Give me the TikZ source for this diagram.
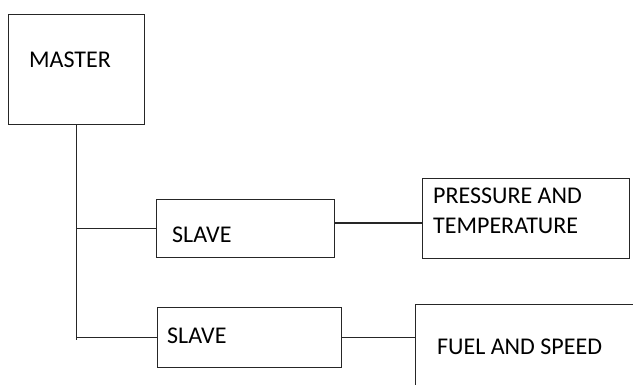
\documentclass[tikz,border=0pt]{standalone}
\usepackage{fontspec}
\setmainfont{Carlito}
\begin{document}
\begin{tikzpicture}[x=1pt,y=-1pt,
  box/.style={draw=black!85, line width=1.4pt, anchor=north west, inner sep=0pt},
  lbl/.style={anchor=base west, inner sep=0pt, text=black,
    font=\fontsize{24}{27}\selectfont},
  wire/.style={draw=black!85, line width=1.4pt}]
\clip (0,0) rectangle (633,385);
\fill[white] (0,0) rectangle (633,385);

% boxes
\node[box, minimum width=136pt, minimum height=110pt] (m) at (8,14) {};
\node[box, minimum width=178pt, minimum height=58pt] (s1) at (156,199) {};
\node[box, minimum width=184pt, minimum height=60pt] (s2) at (157,307) {};
\node[box, minimum width=207pt, minimum height=80pt] (pt) at (422,178) {};
\node[box, minimum width=240pt, minimum height=110pt] (fs) at (415,304) {};

% labels
\node[lbl] (mt) at (29,68) {MASTER};
\node[lbl] (s1t) at (172,243) {SLAVE};
\node[lbl] (s2t) at (167,344) {SLAVE};
\node[lbl] (pt1) at (433,204) {PRESSURE AND};
\node[lbl] (pt2) at (433,234) {TEMPERATURE};
\node[lbl] (fst) at (437,355) {FUEL AND SPEED};

% bus from master to the slaves
\draw[wire] (m.south) -- (m.south |- 0,340);
\draw[wire] (m.south |- s1.west) -- (s1.west);
\draw[wire] (m.south |- s2.west) -- (s2.west);

% slaves to their sensor groups
\draw[wire] (s1.east |- 0,223) -- (pt.west |- 0,223);
\draw[wire] (s2.east) -- (s2.east -| fs.west);
\end{tikzpicture}
\end{document}
